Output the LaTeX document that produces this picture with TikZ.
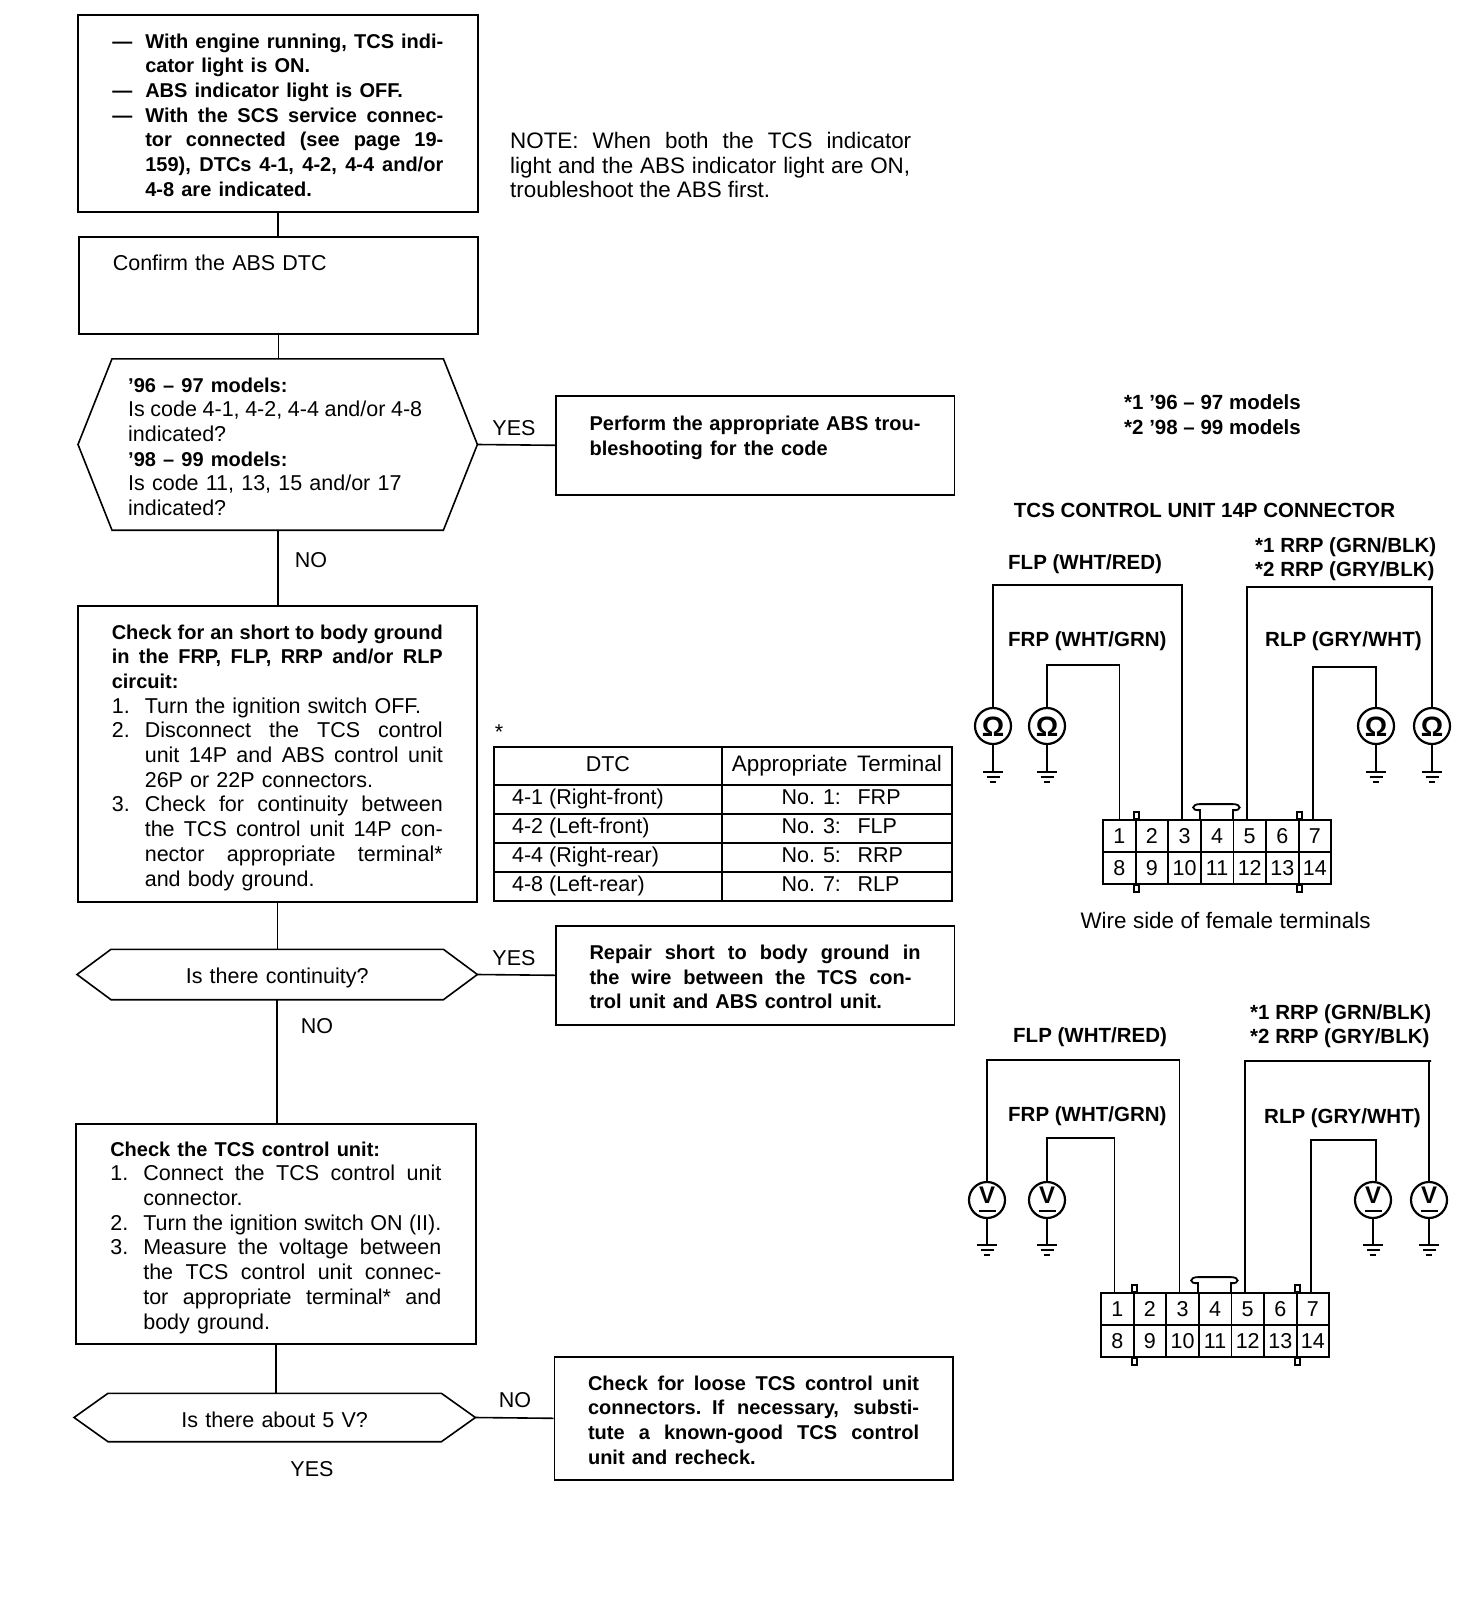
\documentclass[tikz,border=0pt]{standalone}
\usepackage{fontspec}
\setmainfont{Liberation Sans}
\newcommand\rgf{\fontsize{21.5}{24.7}\selectfont}
\newcommand\rgw{\fontsize{22.4}{24.7}\selectfont}
\newcommand\bft{\fontsize{20.5}{24.7}\selectfont\bfseries}
\newcommand\bfa{\fontsize{20}{24.7}\selectfont\bfseries}
\newcommand\fit[2]{\leavevmode\hbox to #1{\spaceskip=5.6pt plus 1fil minus 2pt\relax #2}}
\newcommand\jl[1]{\fit{331pt}{#1}}
\newcommand\hangj[2]{\makebox[33pt][l]{#1}\fit{298pt}{#2}}
\newcommand\hangl[2]{\makebox[33pt][l]{#1}#2}
\newcommand\contj[1]{\hspace*{33pt}\fit{298pt}{#1}}
\newcommand\contl[1]{\hspace*{33pt}#1}
\newcommand\hexa[1]{\draw[wire] (#1.west) -- ([xshift=34pt]#1.north west) -- ([xshift=-34pt]#1.north east) -- (#1.east) -- ([xshift=-34pt]#1.south east) -- ([xshift=34pt]#1.south west) -- cycle;}
\tikzset{
  wire/.style={line width=1.6pt,line join=miter},
  tpad/.style={execute at begin node={\rule{0pt}{\dimexpr16pt+#1pt\relax}}},
  flowbox/.style={draw,line width=1.6pt,anchor=north west,inner sep=0pt,text width=331pt,align=left,font=\rgf},
  hexnode/.style={anchor=west,inner sep=0pt,align=left,font=\rgf},
  lbl/.style={font=\rgf,inner sep=0pt},
  blbl/.style={font=\bft,inner sep=0pt},
  cell/.style={draw,line width=2.2pt,anchor=north west,inner sep=0pt,font=\rgf,execute at begin node=\rule[-5pt]{0pt}{19pt}},
  pin/.style={draw,line width=1.8pt,inner sep=0pt,minimum width=32.6pt,minimum height=32pt,font=\rgf},
  meter/.style={draw,circle,line width=2.2pt,inner sep=0pt,minimum size=36pt},
  ground/.pic={\draw[line width=1.6pt] (-10,0)--(10,0) (-6.5,5)--(6.5,5) (-3,10)--(3,10);},
  latch/.pic={\draw[line width=1.8pt] (0,0)--(0,-9) .. controls (-9,-8) and (-9,-15) .. (0,-15) -- (33,-15) .. controls (42,-15) and (42,-8) .. (33,-9) -- (33,0);},
  tabup/.pic={\draw[line width=1.6pt,fill=white] (-2.5,0) rectangle (2.5,-7);},
  tabdown/.pic={\draw[line width=1.6pt,fill=white] (-2.5,0) rectangle (2.5,7);},
}
\newcommand\omg{\smash{\makebox[0pt][c]{\bfseries\fontsize{28}{28}\selectfont\raisebox{-10pt}{Ω}}}}
\newcommand\vlt{\smash{\makebox[0pt][c]{\bfseries\fontsize{24}{24}\selectfont\raisebox{-3pt}{V}}\makebox[0pt][c]{\rule[-12pt]{17pt}{2pt}}}}
\begin{document}
\begin{tikzpicture}[x=1pt,y=-1pt]
\fill[white] (0,0) rectangle (1472,1616);
\useasboundingbox (0,0) rectangle (1472,1616);

% flow boxes
\node[flowbox,tpad=2,minimum width=400pt,minimum height=197pt] (b1) at (77,14) {%
\hangj{\bfa —}{\bfa With engine running, TCS indi-}\\
\contl{\bfa cator light is ON.}\\
\hangl{\bfa —}{\bfa ABS indicator light is OFF.}\\
\hangj{\bfa —}{\bfa With the SCS service connec-}\\
\contj{\bfa tor connected (see page 19-}\\
\contj{\bfa 159), DTCs 4-1, 4-2, 4-4 and/or}\\
\contl{\bfa 4-8 are indicated.}};
\node[flowbox,tpad=4,minimum width=399pt,minimum height=97pt] (b2) at (78,236) {Confirm the ABS DTC\\\mbox{}\\\mbox{}};
\node[hexnode,tpad=3,minimum width=399pt,minimum height=171pt,text width=299pt] (h1) at (78,444.5) {%
{\bfa ’96 – 97 models:}\\
\fit{294pt}{Is code 4-1, 4-2, 4-4 and/or 4-8}\\
indicated?\\
{\bfa ’98 – 99 models:}\\
Is code 11, 13, 15 and/or 17\\
indicated?};
\hexa{h1}
\node[flowbox,tpad=4,minimum width=398.5pt,minimum height=99pt] (b3) at (555,395) {%
\jl{\bfa Perform the appropriate ABS trou-}\\
{\bfa bleshooting for the code}\\\mbox{}};
\node[flowbox,tpad=6,minimum width=399pt,minimum height=296pt] (b4) at (77,605) {%
\jl{\bfa Check for an short to body ground}\\
\jl{\bfa in the FRP, FLP, RRP and/or RLP}\\
{\bfa circuit:}\\
\hangl{1.}{Turn the ignition switch OFF.}\\
\hangj{2.}{Disconnect the TCS control}\\
\contj{unit 14P and ABS control unit}\\
\contl{26P or 22P connectors.}\\
\hangj{3.}{Check for continuity between}\\
\contj{the TCS control unit 14P con-}\\
\contj{nector appropriate terminal*}\\
\contl{and body ground.}};
\node[hexnode,tpad=6,minimum width=400pt,minimum height=50pt,align=center,text width=299pt] (h2) at (77,974.5) {Is there continuity?};
\hexa{h2}
\node[flowbox,tpad=2,minimum width=398.5pt,minimum height=99pt] (b5) at (555,925) {%
\jl{\bfa Repair short to body ground in}\\
\fit{322pt}{\bfa the wire between the TCS con-}\\
{\bfa trol unit and ABS control unit.}};
\node[flowbox,tpad=6,minimum width=400pt,minimum height=220pt] (b6) at (75,1123) {%
{\bfa Check the TCS control unit:}\\
\hangj{1.}{Connect the TCS control unit}\\
\contl{connector.}\\
\hangj{2.}{Turn the ignition switch ON (II).}\\
\hangj{3.}{Measure the voltage between}\\
\contj{the TCS control unit connec-}\\
\contj{tor appropriate terminal* and}\\
\contl{body ground.}};
\node[hexnode,tpad=4,minimum width=401pt,minimum height=48pt,align=center,text width=299pt] (h3) at (74,1417.5) {Is there about 5 V?};
\hexa{h3}
\node[flowbox,tpad=2,minimum width=398.5pt,minimum height=123pt] (b7) at (553.5,1356) {%
\jl{\bfa Check for loose TCS control unit}\\
\jl{\bfa connectors. If necessary, substi-}\\
\jl{\bfa tute a known-good TCS control}\\
{\bfa unit and recheck.}};

% flow connectors
\draw[wire] (b1.south) -- (b1.south |- b2.north);
\draw[wire] (b2.south) -- (b2.south |- h1.north);
\draw[wire] (h1.south) -- (h1.south |- b4.north);
\draw[wire] (h1.east) -- (b3.west);
\draw[wire] (b4.south) -- (b4.south |- h2.north);
\draw[wire] (h2.east) -- (b5.west);
\draw[wire] (h2.south) -- (h2.south |- b6.north);
\draw[wire] (b6.south) -- (b6.south |- h3.north);
\draw[wire] (h3.east) -- (b7.west);

\node[lbl] (yes1) at (514,428) {YES};
\node[lbl] (no1) at (311,560) {NO};
\node[lbl] (yes2) at (514,958) {YES};
\node[lbl] (no2) at (317,1026) {NO};
\node[lbl] (no3) at (515,1400) {NO};
\node[lbl] (yes3) at (312,1469) {YES};

% note
\node[lbl,anchor=west,text width=401pt,align=left,font=\rgw] (note) at (510,165) {%
\fit{401pt}{NOTE: When both the TCS indicator}\\
\fit{400pt}{light and the ABS indicator light are ON,}\\
\fit{260pt}{troubleshoot the ABS first.}};

% table
\node[lbl] (ast) at (499,732) {*};
\node[cell,minimum width=227.5pt,minimum height=38pt] (t0a) at (493,746) {DTC};
\node[cell,minimum width=230.5pt,minimum height=38pt,font=\rgw] (t0b) at (720.5,746) {\fit{210pt}{Appropriate Terminal}};
\foreach \r/\y/\d/\n/\p in {1/784/4-1 (Right-front)/1/FRP,2/813/4-2 (Left-front)/3/FLP,3/842/4-4 (Right-rear)/5/RRP,4/871/4-8 (Left-rear)/7/RLP}{
  \node[cell,minimum width=227.5pt,minimum height=29pt] (t\r a) at (493,\y) {\makebox[227.5pt][l]{\hspace*{18pt}\d}};
  \node[cell,minimum width=230.5pt,minimum height=29pt] (t\r b) at (720.5,\y) {\makebox[230.5pt][l]{\hspace*{60pt}\makebox[76pt][l]{No. \n:}\p}};
}

% right-hand header texts
\node[blbl,anchor=west] (m1) at (1124,402) {*1 ’96 – 97 models};
\node[blbl,anchor=west] (m2) at (1124,427) {*2 ’98 – 99 models};
\node[blbl] (hd) at (1204.5,510) {TCS CONTROL UNIT 14P CONNECTOR};

% connector A
\foreach \i in {1,...,7}{
  \pgfmathsetmacro\xa{1103+(\i-0.5)*32.6}
  \pgfmathtruncatemacro\j{\i+7}
  \node[pin] (a\i) at (\xa,836) {\i};
  \node[pin] (a\j) at (\xa,868) {\j};
}
\pic at (a4.north west) {latch};
\pic at (a1.north east) {tabup};
\pic at (a6.north east) {tabup};
\pic at (a8.south east) {tabdown};
\pic at (a13.south east) {tabdown};

\node[meter] (ma) at (993,726) {\omg};
\node[meter] (mb) at (1047,726) {\omg};
\node[meter] (mc) at (1376,726) {\omg};
\node[meter] (md) at (1432,726) {\omg};
\foreach \q/\x in {ma/993,mb/1047,mc/1376,md/1432}{
  \coordinate (g\q) at (\x,772);
  \draw[wire] (\q.south) -- (g\q);
  \pic at (g\q) {ground};
}
\coordinate (flpa) at (993,585);
\coordinate (frpa) at (1047,665);
\coordinate (rrpa) at (1432,587);
\coordinate (rlpa) at (1376,667);
\draw[wire] (ma.north) |- (flpa) -| ([xshift=-2.5pt]a3.north);
\draw[wire] (mb.north) |- (frpa) -| (a1.north);
\draw[wire] (md.north) |- (rrpa) -| ([xshift=-3pt]a5.north);
\draw[wire] (mc.north) |- (rlpa) -| ([xshift=-2pt]a7.north);

\node[blbl,anchor=west,yshift=-2pt] (la1) at (1008,562) {FLP (WHT/RED)};
\node[blbl,anchor=west,yshift=-2pt] (la2) at (1008,639) {FRP (WHT/GRN)};
\node[blbl,anchor=west,yshift=-2pt] (la3) at (1265,639) {RLP (GRY/WHT)};
\node[blbl,anchor=west,yshift=-2pt] (la4) at (1255,545) {*1 RRP (GRN/BLK)};
\node[blbl,anchor=west,yshift=-2pt] (la5) at (1255,569) {*2 RRP (GRY/BLK)};
\node[lbl,anchor=center,font=\rgw] (wside) at (1225.5,920) {\fit{290pt}{Wire side of female terminals}};

% connector B
\foreach \i in {1,...,7}{
  \pgfmathsetmacro\xa{1101+(\i-0.5)*32.6}
  \pgfmathtruncatemacro\j{\i+7}
  \node[pin] (k\i) at (\xa,1309) {\i};
  \node[pin] (k\j) at (\xa,1341) {\j};
}
\pic at (k4.north west) {latch};
\pic at (k1.north east) {tabup};
\pic at (k6.north east) {tabup};
\pic at (k8.south east) {tabdown};
\pic at (k13.south east) {tabdown};

\node[meter] (na) at (987,1200) {\vlt};
\node[meter] (nb) at (1047,1200) {\vlt};
\node[meter] (nc) at (1373,1200) {\vlt};
\node[meter] (nd) at (1429,1200) {\vlt};
\foreach \q/\x in {na/987,nb/1047,nc/1373,nd/1429}{
  \coordinate (g\q) at (\x,1245);
  \draw[wire] (\q.south) -- (g\q);
  \pic at (g\q) {ground};
}
\coordinate (flpb) at (986,1060);
\coordinate (frpb) at (1046,1138);
\coordinate (rrpb) at (1431,1061);
\coordinate (rlpb) at (1376,1140);
\draw[wire] (na.north) |- (flpb) -| ([xshift=-3pt]k3.north);
\draw[wire] (nb.north) |- (frpb) -| ([xshift=-3pt]k1.north);
\draw[wire] (nd.north) |- (rrpb) -| ([xshift=-3pt]k5.north);
\draw[wire] ([xshift=3pt]nc.north) |- (rlpb) -| ([xshift=-2pt]k7.north);

\node[blbl,anchor=west,yshift=-2pt] (lb1) at (1013,1035) {FLP (WHT/RED)};
\node[blbl,anchor=west,yshift=-2pt] (lb2) at (1008,1114) {FRP (WHT/GRN)};
\node[blbl,anchor=west,yshift=-2pt] (lb3) at (1264,1116) {RLP (GRY/WHT)};
\node[blbl,anchor=west,yshift=-2pt] (lb4) at (1250,1012) {*1 RRP (GRN/BLK)};
\node[blbl,anchor=west,yshift=-2pt] (lb5) at (1250,1036) {*2 RRP (GRY/BLK)};
\end{tikzpicture}
\end{document}
